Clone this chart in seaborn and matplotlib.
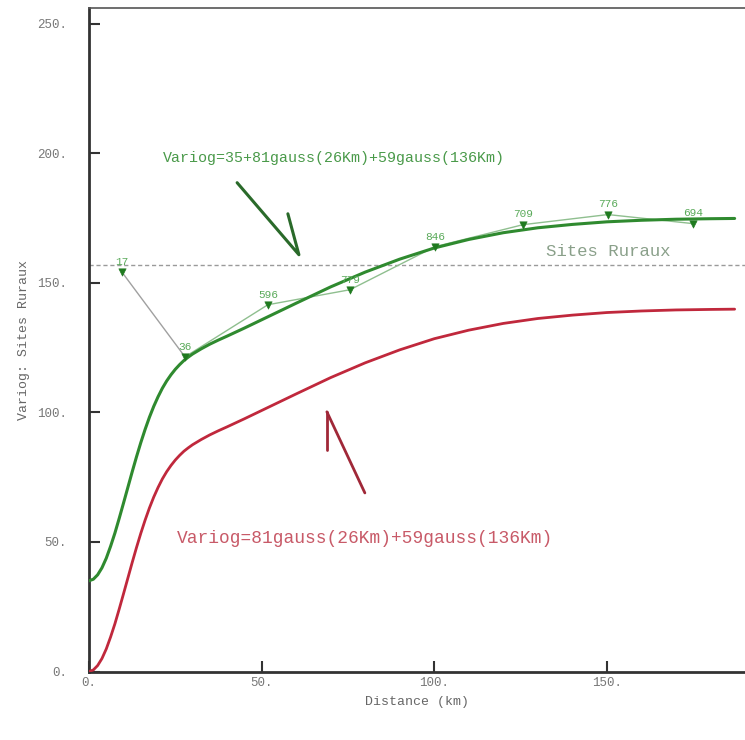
import numpy as np
import pandas as pd
import matplotlib
matplotlib.use("Agg")
import matplotlib.pyplot as plt
import seaborn as sns

# ---- data ----
distance_km = [0, 1.25, 2.5, 3.75, 5, 6.25, 7.5, 8.75, 10, 11.25, 12.5, 13.75, 15, 16.25,
               17.5, 18.75, 20, 21.25, 22.5, 23.75, 25, 26.25, 27.5, 28.75, 30, 32.5, 35,
               37.5, 40, 45, 50, 60, 70, 80, 90, 100, 110, 120, 130, 140, 150, 160, 170,
               180, 187]
model_with_nugget = [35.0, 35.6, 37.3, 40.0, 43.7, 48.3, 53.4, 59.1, 65.0, 71.0, 77.0,
                     82.8, 88.3, 93.4, 98.1, 102.3, 106.0, 109.3, 112.1, 114.5, 116.6,
                     118.4, 120.0, 121.3, 122.5, 124.5, 126.3, 127.9, 129.4, 132.5,
                     135.7, 142.1, 148.4, 154.1, 159.1, 163.4, 166.7, 169.3, 171.2,
                     172.5, 173.5, 174.1, 174.5, 174.7, 174.8]
model_no_nugget = [0.0, 0.6, 2.3, 5.0, 8.7, 13.3, 18.4, 24.1, 30.0, 36.0, 42.0,
                   47.8, 53.3, 58.4, 63.1, 67.3, 71.0, 74.3, 77.1, 79.5, 81.6,
                   83.4, 85.0, 86.3, 87.5, 89.5, 91.3, 92.9, 94.4, 97.5,
                   100.7, 107.1, 113.4, 119.1, 124.1, 128.4, 131.7, 134.3, 136.2,
                   137.5, 138.5, 139.1, 139.5, 139.7, 139.8]

exp_distance = [9.6, 27.8, 51.8, 75.6, 100.2, 125.7, 150.3, 175.0]
exp_variog = [154.0, 121.4, 141.5, 147.3, 163.9, 172.4, 176.3, 172.8]
exp_pairs = ["17", "36", "596", "779", "846", "709", "776", "694"]

sill_level = 157.0
sill_label = "Sites Ruraux"
label_green = "Variog=35+81gauss(26Km)+59gauss(136Km)"
label_red = "Variog=81gauss(26Km)+59gauss(136Km)"

x_ticks = [0, 50, 100, 150]
x_tick_labels = ["0.", "50.", "100.", "150."]
y_ticks = [0, 50, 100, 150, 200, 250]
y_tick_labels = ["0.", "50.", "100.", "150.", "200.", "250."]

# ---- styling ----
sns.set_theme(style="white")
plt.rcParams["font.family"] = ["Liberation Mono", "DejaVu Sans Mono"]

fig = plt.figure(figsize=(7.45, 7.40), dpi=100)
ax = fig.add_axes([89 / 745, 68.5 / 740, 1 - 89 / 745, (671.5 - 8) / 740])

GREEN = "#2f8a2f"
RED = "#c0283c"

models = pd.DataFrame({"d": distance_km, "g": model_with_nugget, "r": model_no_nugget})
exp = pd.DataFrame({"d": exp_distance, "v": exp_variog, "n": exp_pairs})

ax.axhline(sill_level, color="#9a9a9a", lw=1.0, ls=(0, (3, 2)), zorder=1)

sns.lineplot(data=models, x="d", y="r", color=RED, lw=2.0, ax=ax, zorder=3)
sns.lineplot(data=models, x="d", y="g", color=GREEN, lw=2.2, ax=ax, zorder=3)

# experimental variogram
ax.plot(exp["d"][:2], exp["v"][:2], color="#a0a0a0", lw=1.0, zorder=2)
ax.plot(exp["d"][1:], exp["v"][1:], color="#8fbf8f", lw=1.0, zorder=2)
sns.scatterplot(data=exp, x="d", y="v", marker="v", s=28, color="#1f7a1f",
                edgecolor="#1f7a1f", ax=ax, zorder=4)
for d, v, n in zip(exp_distance, exp_variog, exp_pairs):
    ax.text(d, v + 2.0, n, color="#5aaa5a", fontsize=8, ha="center", va="bottom", zorder=5)

# annotations
ax.text(168.3, 162.0, sill_label, color="#8aa08a", fontsize=12.5,
        ha="right", va="center")
ax.text(21.4, 198.0, label_green, color="#4a9a4a", fontsize=10.8, ha="left", va="center")
ax.text(25.5, 51.5, label_red, color="#c85a68", fontsize=12.9, ha="left", va="center")

ax.plot([42.9, 60.8, 57.6], [188.6, 160.8, 176.6], color="#2a6a2a", lw=2.2)
ax.plot([68.9, 68.9], [85.5, 100.2], color="#a02838", lw=2.0)
ax.plot([68.9, 79.9], [100.2, 68.9], color="#a02838", lw=2.0)

ax.set_xlim(0, 190)
ax.set_ylim(0, 256)
ax.set_xticks(x_ticks)
ax.set_xticklabels(x_tick_labels)
ax.set_yticks(y_ticks)
ax.set_yticklabels(y_tick_labels)
ax.tick_params(direction="in", length=8, width=1.5, color="#333333",
               labelsize=9, labelcolor="#777777", bottom=True, left=True)
ax.tick_params(axis="y", pad=16)
ax.tick_params(axis="x", pad=4)
ax.set_xlabel("Distance (km)", fontsize=9.5, color="#666666", labelpad=5)
ax.set_ylabel("Variog: Sites Ruraux", fontsize=9.5, color="#666666", labelpad=5)

for s in ["left", "bottom"]:
    ax.spines[s].set_color("#333333")
    ax.spines[s].set_linewidth(2.0)
ax.spines["top"].set_color("#555555")
ax.spines["top"].set_linewidth(1.2)
ax.spines["right"].set_visible(False)

fig.savefig("out.png", dpi=100)
